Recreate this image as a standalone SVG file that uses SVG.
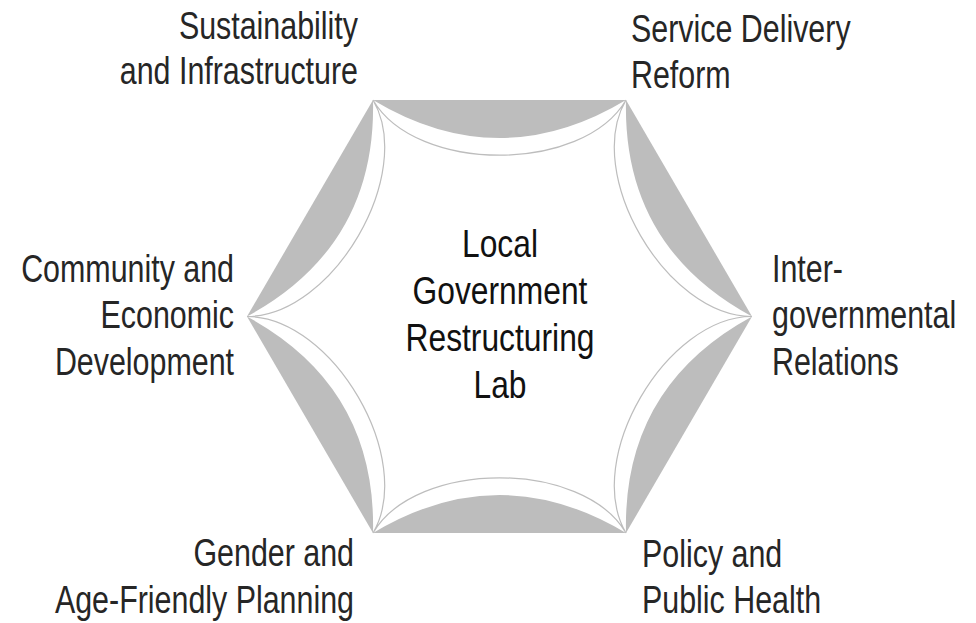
<svg xmlns="http://www.w3.org/2000/svg" width="976" height="623" viewBox="0 0 976 623">
<style>
.lbl{font-family:"Liberation Sans","Arial",sans-serif;font-size:38px;fill:#262626;}
.ctr{font-family:"Liberation Sans","Arial",sans-serif;font-size:39px;fill:#111;text-anchor:middle;}
.r{text-anchor:end;}
</style>
<rect width="976" height="623" fill="#fff"/>
<g id="hexagon">
<polygon points="373,100 626,100 752,316.5 626,533 373,533 247,316.5" fill="#bdbdbd"/>
<path d="M373,100 Q499.5,176 626,100 Q622.5,246.25 752,316.5 Q622.5,386.75 626,533 Q499.5,457 373,533 Q376.5,386.75 247,316.5 Q376.5,246.25 373,100 Z" fill="#fff"/>
<path d="M373,100 C416,173.6 583,173.6 626,100 C583,173.6 666.15,316.5 752,316.5 C666.15,316.5 583,459.4 626,533 C583,459.4 416,459.4 373,533 C416,459.4 332.85,316.5 247,316.5 C332.85,316.5 416,173.6 373,100 Z" fill="none" stroke="#bdbdbd" stroke-width="1.2"/>
</g>
<g id="center" transform="translate(500,0) scale(0.815,1)">
<text class="ctr" x="0" y="257">Local</text>
<text class="ctr" x="0" y="304">Government</text>
<text class="ctr" x="0" y="351">Restructuring</text>
<text class="ctr" x="0" y="398">Lab</text>
</g>
<g id="sustainability" transform="translate(358,0) scale(0.8,1)">
<text class="lbl r" x="0" y="39">Sustainability</text>
<text class="lbl r" x="0" y="84">and Infrastructure</text>
</g>
<g id="service" transform="translate(631,0) scale(0.8,1)">
<text class="lbl" x="0" y="42">Service Delivery</text>
<text class="lbl" x="0" y="88">Reform</text>
</g>
<g id="community" transform="translate(234,0) scale(0.8,1)">
<text class="lbl r" x="0" y="282">Community and</text>
<text class="lbl r" x="0" y="328">Economic</text>
<text class="lbl r" x="0" y="375">Development</text>
</g>
<g id="intergov" transform="translate(772,0) scale(0.8,1)">
<text class="lbl" x="0" y="282">Inter-</text>
<text class="lbl" x="0" y="328">governmental</text>
<text class="lbl" x="0" y="375">Relations</text>
</g>
<g id="gender" transform="translate(354,0) scale(0.8,1)">
<text class="lbl r" x="0" y="566">Gender and</text>
<text class="lbl r" x="0" y="613">Age-Friendly Planning</text>
</g>
<g id="policy" transform="translate(642,0) scale(0.8,1)">
<text class="lbl" x="0" y="567">Policy and</text>
<text class="lbl" x="0" y="613">Public Health</text>
</g>
<g id="connectors"></g>
</svg>
